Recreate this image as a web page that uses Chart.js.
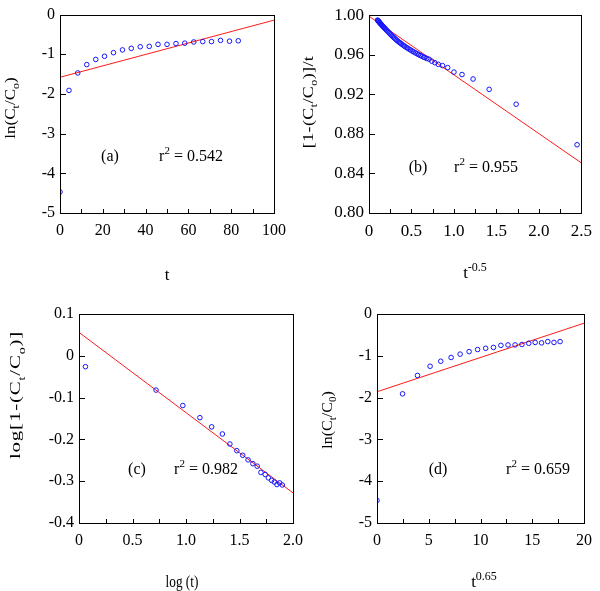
<!DOCTYPE html>
<html lang="en">
<head>
    <meta charset="UTF-8">
    <title>Kinetic model fits</title>
    <script src="https://cdn.jsdelivr.net/npm/chart.js"></script>
    <style>
        body { margin: 0; background: #fff; }
        #wrap { position: relative; width: 600px; height: 591px; }
        #wrap canvas { position: absolute; left: 0; top: 0; }
    </style>
</head>
<body>
<div id="wrap">
    <canvas id="pa" width="600" height="591"></canvas>
    <canvas id="pb" width="600" height="591"></canvas>
    <canvas id="pc" width="600" height="591"></canvas>
    <canvas id="pd" width="600" height="591"></canvas>
</div>
<script>
// (a) ln(Ct/Co) vs t
var tA = [0, 4.2, 8.3, 12.5, 16.7, 20.8, 25, 29.2, 33.3, 37.5, 41.7, 45.8, 50, 54.2, 58.3, 62.5, 66.7, 70.8, 75, 79.2, 83.3];
var lnA = [-4.47, -1.91, -1.47, -1.26, -1.13, -1.05, -0.96, -0.89, -0.85, -0.81, -0.80, -0.75, -0.75, -0.73, -0.72, -0.69, -0.68, -0.68, -0.65, -0.67, -0.66];
var fitAx = [0, 100];
var fitAy = [-1.58, -0.14];

// (b) [1-(Ct/Co)]/t vs t^-0.5
var xB = [0.100, 0.104, 0.108, 0.113, 0.118, 0.124, 0.130, 0.136, 0.143, 0.150, 0.158, 0.166, 0.175, 0.184,
          0.194, 0.204, 0.215, 0.226, 0.238, 0.250, 0.262, 0.275, 0.288, 0.301, 0.315, 0.329, 0.343, 0.358,
          0.373, 0.389, 0.405, 0.421, 0.438, 0.455, 0.472, 0.490, 0.508, 0.526, 0.545, 0.564, 0.583, 0.603,
          0.623, 0.644, 0.655, 0.679, 0.707, 0.739, 0.775, 0.816, 0.866, 0.926, 1.000, 1.095, 1.225, 1.414,
          1.732, 2.449];
var yB = [0.9950, 0.9947, 0.9943, 0.9938, 0.9932, 0.9926, 0.9920, 0.9914, 0.9907, 0.9901, 0.9893, 0.9885, 0.9877, 0.9869,
          0.9860, 0.9851, 0.9841, 0.9832, 0.9821, 0.9810, 0.9799, 0.9788, 0.9778, 0.9767, 0.9756, 0.9745, 0.9735, 0.9725,
          0.9715, 0.9705, 0.9695, 0.9685, 0.9675, 0.9666, 0.9657, 0.9648, 0.9638, 0.9629, 0.9620, 0.9611, 0.9602, 0.9593,
          0.9585, 0.9576, 0.9572, 0.9563, 0.9555, 0.9535, 0.9520, 0.9503, 0.9490, 0.9470, 0.9425, 0.9400, 0.9355, 0.9250,
          0.9100, 0.8690];
var fitBx = [0, 2.5];
var fitBy = [0.999, 0.8506];

// (c) log[1-(Ct/Co)] vs log(t)
var xC = [0.06, 0.72, 0.97, 1.13, 1.24, 1.34, 1.41, 1.475, 1.53, 1.58, 1.625, 1.665, 1.70, 1.74, 1.77, 1.80, 1.825, 1.85, 1.875, 1.90];
var yC = [-0.026, -0.082, -0.119, -0.148, -0.170, -0.187, -0.211, -0.227, -0.238, -0.249, -0.258, -0.264, -0.279, -0.284, -0.292, -0.298, -0.302, -0.308, -0.304, -0.309];
var fitCx = [0, 2];
var fitCy = [0.056, -0.328];

// (d) ln(Ct/C0) vs t^0.65
var xD = [0, 2.47, 3.91, 5.13, 6.16, 7.16, 8.03, 8.9, 9.72, 10.5, 11.25, 11.97, 12.66, 13.34, 14.0, 14.66, 15.28, 15.9, 16.5, 17.1, 17.69];
var yD = [-4.46, -1.91, -1.47, -1.25, -1.13, -1.04, -0.96, -0.90, -0.85, -0.82, -0.80, -0.75, -0.74, -0.74, -0.73, -0.70, -0.68, -0.69, -0.66, -0.68, -0.66];
var fitDx = [0, 20];
var fitDy = [-1.86, -0.22];

var FONT = '"Liberation Serif", "Times New Roman", serif';

function pts(xs, ys) {
    return xs.map(function (x, i) { return { x: x, y: ys[i] }; });
}

// texto con subindices / superindices: partes [texto, 0 normal | 1 sub | 2 sup]
function richText(ctx, t) {
    var size = t.size || 16;
    var small = Math.round(size * 0.68);
    ctx.save();
    ctx.translate(t.x, t.y);
    ctx.scale(t.sx || 1, 1);
    if (t.rotate) ctx.rotate(-Math.PI / 2);
    if (t.ls) ctx.letterSpacing = t.ls + 'px';
    var w = 0;
    t.parts.forEach(function (p) {
        ctx.font = (p[1] ? small : size) + 'px ' + FONT;
        w += ctx.measureText(p[0]).width;
    });
    var cx = -w / 2;
    ctx.fillStyle = '#000';
    ctx.textBaseline = 'alphabetic';
    t.parts.forEach(function (p) {
        ctx.font = (p[1] ? small : size) + 'px ' + FONT;
        var dy = p[1] === 1 ? size * 0.3 : (p[1] === 2 ? -size * 0.42 : 0);
        ctx.fillText(p[0], cx, size * 0.35 + dy);
        cx += ctx.measureText(p[0]).width;
    });
    ctx.restore();
}

// marco, ticks hacia dentro y textos
var framePlugin = {
    id: 'frame',
    afterDraw: function (chart, args, opts) {
        var ctx = chart.ctx, a = chart.chartArea;
        var xs = chart.scales.x, ys = chart.scales.y;
        ctx.save();
        ctx.strokeStyle = '#000';
        ctx.lineWidth = 1;
        ctx.strokeRect(Math.round(a.left) + 0.5, Math.round(a.top) + 0.5,
                       Math.round(a.right - a.left), Math.round(a.bottom - a.top));
        ctx.beginPath();
        var half = opts.xStep / 2;
        for (var v = xs.min; v <= xs.max + 1e-9; v += half) {
            var px = Math.round(xs.getPixelForValue(v)) + 0.5;
            ctx.moveTo(px, a.bottom);
            ctx.lineTo(px, a.bottom - 4);
        }
        ys.ticks.forEach(function (t) {
            var py = Math.round(ys.getPixelForValue(t.value)) + 0.5;
            ctx.moveTo(a.left, py);
            ctx.lineTo(a.left + 6, py);
        });
        ctx.stroke();
        ctx.restore();
        opts.texts.forEach(function (t) { richText(ctx, t); });
    }
};

function makePanel(id, area, xr, yr, tickSize, scatter, fit, fmtX, fmtY, texts) {
    var yw = 50, xh = 30;
    return new Chart(document.getElementById(id).getContext('2d'), {
        type: 'scatter',
        data: {
            datasets: [{
                data: scatter,
                showLine: false,
                pointStyle: 'circle',
                pointRadius: 2.3,
                borderWidth: 1,
                borderColor: '#1515ff',
                backgroundColor: 'rgba(0,0,0,0)',
                clip: 0
            }, {
                data: fit,
                showLine: true,
                pointRadius: 0,
                borderWidth: 1,
                borderColor: '#ff1a1a',
                backgroundColor: 'rgba(0,0,0,0)'
            }]
        },
        options: {
            responsive: false,
            animation: false,
            devicePixelRatio: 1,
            layout: {
                padding: { left: area.l - yw, top: area.t, right: 600 - area.r, bottom: 591 - area.b - xh }
            },
            plugins: {
                legend: { display: false },
                tooltip: { enabled: false },
                frame: { xStep: xr[2], texts: texts }
            },
            scales: {
                x: {
                    type: 'linear', min: xr[0], max: xr[1],
                    afterFit: function (s) { s.height = xh; },
                    grid: { display: false, drawTicks: false },
                    border: { display: false },
                    ticks: { stepSize: xr[2], padding: 8, color: '#000', font: { family: FONT, size: tickSize }, callback: fmtX }
                },
                y: {
                    type: 'linear', min: yr[0], max: yr[1],
                    afterFit: function (s) { s.width = yw; },
                    grid: { display: false, drawTicks: false },
                    border: { display: false },
                    ticks: { stepSize: yr[2], padding: 5, color: '#000', font: { family: FONT, size: tickSize }, callback: fmtY }
                }
            }
        },
        plugins: [framePlugin]
    });
}

function intFmt(v) { return String(Math.round(v)); }
function oneDec(v) { return Math.abs(v) < 1e-9 ? '0' : v.toFixed(1); }
function twoDec(v) { return v.toFixed(2); }

makePanel('pa', { l: 60, t: 5, r: 274, b: 213 }, [0, 100, 20], [-5, 0, 1], 16,
    pts(tA, lnA), pts(fitAx, fitAy), intFmt, intFmt, [
        { parts: [['t', 0]], x: 167, y: 274, size: 17 },
        { parts: [['ln(C', 0], ['t', 1], ['/C', 0], ['o', 1], [')', 0]], x: 10, y: 108, rotate: true, size: 17, sx: 0.85 },
        { parts: [['(a)', 0]], x: 110, y: 155, size: 16 },
        { parts: [['r', 0], ['2', 2], [' = 0.542', 0]], x: 191, y: 155, size: 16 }
    ]);

makePanel('pb', { l: 369, t: 5, r: 583, b: 213 }, [0, 2.5, 0.5], [0.8, 1.0, 0.04], 17,
    pts(xB, yB), pts(fitBx, fitBy), oneDec, twoDec, [
        { parts: [['t', 0], ['-0.5', 2]], x: 475, y: 272, size: 17 },
        { parts: [['[1-(C', 0], ['t', 1], ['/C', 0], ['o', 1], [')]/t', 0]], x: 308, y: 102, rotate: true, size: 18, sx: 0.8, ls: 0.4 },
        { parts: [['(b)', 0]], x: 418, y: 166, size: 16 },
        { parts: [['r', 0], ['2', 2], [' = 0.955', 0]], x: 486, y: 166, size: 16 }
    ]);

makePanel('pc', { l: 79, t: 314, r: 293, b: 523 }, [0, 2, 0.5], [-0.4, 0.1, 0.1], 16,
    pts(xC, yC), pts(fitCx, fitCy), oneDec, oneDec, [
        { parts: [['log (t)', 0]], x: 182, y: 581, size: 17, sx: 0.78 },
        { parts: [['log[1-(C', 0], ['t', 1], ['/C', 0], ['o', 1], [')]', 0]], x: 15, y: 395, rotate: true, size: 21, sx: 0.7, ls: 0.8 },
        { parts: [['(c)', 0]], x: 137, y: 468, size: 16 },
        { parts: [['r', 0], ['2', 2], [' = 0.982', 0]], x: 206, y: 468, size: 16 }
    ]);

makePanel('pd', { l: 377, t: 314, r: 591, b: 523 }, [0, 20, 5], [-5, 0, 1], 16,
    pts(xD, yD), pts(fitDx, fitDy), intFmt, intFmt, [
        { parts: [['t', 0], ['0.65', 2]], x: 484, y: 581, size: 17 },
        { parts: [['ln(C', 0], ['t', 1], ['/C', 0], ['0', 1], [')', 0]], x: 327, y: 420, rotate: true, size: 16, sx: 0.9 },
        { parts: [['(d)', 0]], x: 438, y: 468, size: 16 },
        { parts: [['r', 0], ['2', 2], [' = 0.659', 0]], x: 538, y: 468, size: 16 }
    ]);
</script>
</body>
</html>
